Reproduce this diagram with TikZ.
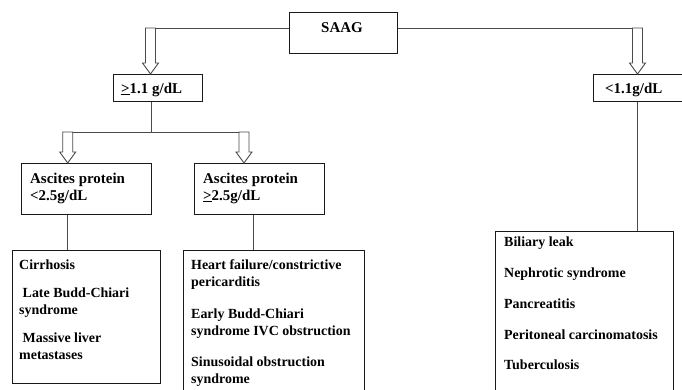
\documentclass[tikz,border=0pt]{standalone}
\usepackage{fontspec}
\setmainfont{Liberation Serif}
\usepackage{tikz}
\usetikzlibrary{calc}
\definecolor{boxline}{HTML}{1A1A1A}
\definecolor{connline}{HTML}{4A4A4A}
\tikzset{
  box/.style={draw=boxline,line width=0.9bp,inner sep=0pt,anchor=north west},
  txt/.style={inner sep=0pt,align=left},
  listtxt/.style={txt,anchor=north west,font=\bfseries\fontsize{14}{17}\selectfont},
  conn/.style={draw=connline,line width=0.9bp},
  fatarrow/.style={draw=connline,line width=0.9bp,fill=white,line join=miter},
}
\newcommand{\fatarrow}[2]{% shaft from #1 down to the tip #2
  \draw[fatarrow] ($(#1)+(-5,0)$) -- ($(#2)+(-5,-11)$) -- ($(#2)+(-8,-11)$) -- (#2)
    -- ($(#2)+(8,-11)$) -- ($(#2)+(5,-11)$) -- ($(#1)+(5,0)$) -- cycle;}

\begin{document}
\begin{tikzpicture}[x=1bp,y=-1bp,font=\bfseries\fontsize{15}{17}\selectfont]
  \useasboundingbox (0,0) rectangle (682,389);
  \clip (0,0) rectangle (682,389);
  % name / left / top / width / height
  \foreach \nm/\xx/\yy/\ww/\hh in {saag/289/12/108/41,hi/113/74/89/27,lo/593/74/100/27,
                                   lp/21/163/130/51,hp/194/163/130/51,cirr/12/250/148/133,
                                   heart/183/250/181/160,bili/495/231/178/180}
    \node[box,minimum width=\ww bp,minimum height=\hh bp] (\nm) at (\xx,\yy) {};
  \node[txt,anchor=base] (saagT) at (342,32) {SAAG};
  \node[txt,anchor=base west] (hiT) at (121,93) {\underline{>}1.1 g/dL};
  \node[txt,anchor=base west] (loT) at (605,93) {<1.1g/dL};
  \node[txt,anchor=north west] (lpT) at (30,172.7) {Ascites protein\\<2.5g/dL};
  \node[txt,anchor=north west] (hpT) at (203,172.7) {Ascites protein\\\underline{>}2.5g/dL};
  \node[listtxt] (cirrT) at (19,259.4)
    {Cirrhosis\\[11bp]\hspace*{3.5bp}Late Budd-Chiari\\syndrome\\[11bp]\hspace*{3.5bp}Massive liver\\metastases};
  \node[listtxt] (heartT) at (191,259.4)
    {Heart failure/constrictive\\pericarditis\\[15bp]Early Budd-Chiari\\syndrome IVC obstruction\\[14bp]Sinusoidal obstruction\\syndrome};
  \node[listtxt] (biliT) at (504,236.4)
    {Biliary leak\\[14bp]Nephrotic syndrome\\[14bp]Pancreatitis\\[14bp]Peritoneal carcinomatosis\\[13bp]Tuberculosis};

  \coordinate (hiTop) at (150.5,28);
  \coordinate (loTop) at (637.5,28);
  \coordinate (split) at (151,132);
  \coordinate (lpTop) at (67.7,132);
  \coordinate (hpTop) at (244,132);
  \coordinate (hpStem) at (253,0);
  \draw[conn] (saag.west |- hiTop) -- (hiTop);
  \draw[conn] (saag.east |- loTop) -- (loTop);
  \draw[conn] (split |- hi.south) -- (split);
  \draw[conn] (lpTop) -- (hpTop);
  \draw[conn] (lpTop |- lp.south) -- (lpTop |- cirr.north);
  \draw[conn] (hpStem |- hp.south) -- (hpStem |- heart.north);
  \draw[conn] (loTop |- lo.south) -- (loTop |- bili.north);
  \foreach \aa/\bb in {hiTop/hi,loTop/lo,lpTop/lp,hpTop/hp}
    \fatarrow{\aa}{\aa |- \bb.north};
\end{tikzpicture}
\end{document}
